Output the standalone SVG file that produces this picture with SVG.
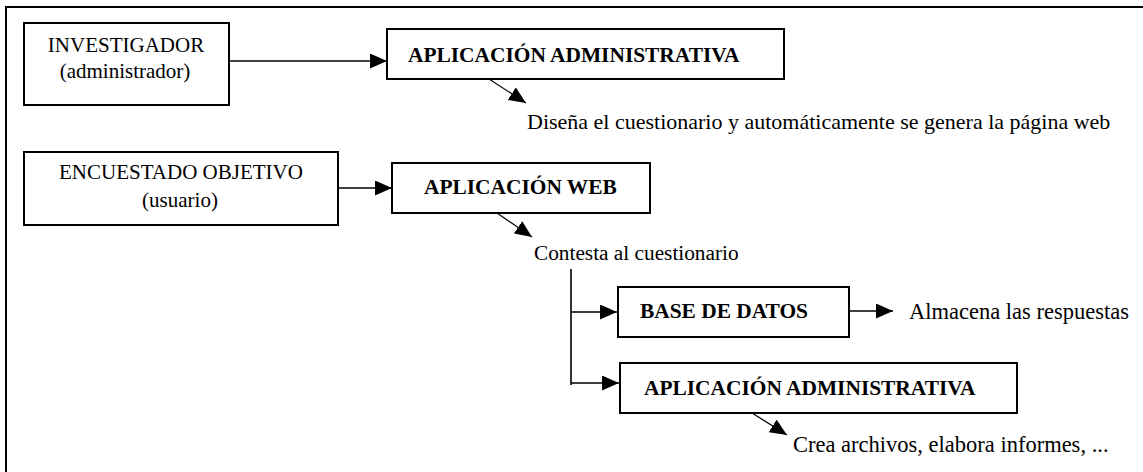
<svg xmlns="http://www.w3.org/2000/svg" width="1143" height="472" viewBox="0 0 1143 472">
<style>
text{font-family:'Liberation Serif','Times New Roman',serif;font-size:21px;fill:#000}
.b{font-weight:bold;font-size:21.4px}
.c{text-anchor:middle}
.n{font-size:22px}
.m{font-size:22.5px}
.box{fill:#fff;stroke:#000;stroke-width:2}
.ln{stroke:#000;stroke-width:1.6;fill:none}
.dg{stroke:#000;stroke-width:1.2;fill:none}
</style>
<defs>
<marker id="ah" markerUnits="userSpaceOnUse" markerWidth="17" markerHeight="15" refX="17" refY="7.5" orient="auto">
<path d="M0,0 L17,7.5 L0,15 z" fill="#000"/>
</marker>
</defs>
<rect x="6" y="7" width="1200" height="500" fill="#fff" stroke="#000" stroke-width="2"/>
<g id="investigador">
<rect class="box" x="24" y="23" width="205" height="82"/>
<text class="c" x="126" y="52">INVESTIGADOR</text>
<text class="c" x="125" y="78">(administrador)</text>
</g>
<g id="app-admin-1">
<rect class="box" x="387" y="29" width="397" height="50"/>
<text class="b" x="408" y="62">APLICACIÓN ADMINISTRATIVA</text>
</g>
<g id="note-disena">
<text class="n" x="527" y="129">Diseña el cuestionario y automáticamente se genera la página web</text>
</g>
<g id="encuestado">
<rect class="box" x="24" y="152" width="314" height="73"/>
<text class="c" x="181" y="179">ENCUESTADO OBJETIVO</text>
<text class="c" x="180" y="207">(usuario)</text>
</g>
<g id="app-web">
<rect class="box" x="392" y="163" width="258" height="50"/>
<text class="b" x="424" y="194">APLICACIÓN WEB</text>
</g>
<g id="note-contesta">
<text x="534" y="260" style="font-size:21.3px">Contesta al cuestionario</text>
</g>
<g id="base-datos">
<rect class="box" x="618" y="287" width="231" height="50"/>
<text class="b" x="640" y="318">BASE DE DATOS</text>
</g>
<g id="note-almacena">
<text class="m" x="909" y="319">Almacena las respuestas</text>
</g>
<g id="app-admin-2">
<rect class="box" x="620" y="363" width="397" height="50"/>
<text class="b" x="644" y="395">APLICACIÓN ADMINISTRATIVA</text>
</g>
<g id="note-crea">
<text class="m" x="793" y="452">Crea archivos, elabora informes, ...</text>
</g>
<g id="connectors">
<path class="ln" d="M229,61 H387" marker-end="url(#ah)"/>
<path class="dg" d="M489,79 L526,103" marker-end="url(#ah)"/>
<path class="ln" d="M338,188 H392" marker-end="url(#ah)"/>
<path class="dg" d="M497,213 L532,237" marker-end="url(#ah)"/>
<path class="ln" d="M571,269 V385"/>
<path class="ln" d="M571,312 H617" marker-end="url(#ah)"/>
<path class="ln" d="M571,383 H619" marker-end="url(#ah)"/>
<path class="ln" d="M849,311 H893" marker-end="url(#ah)"/>
<path class="dg" d="M752,413 L787,435" marker-end="url(#ah)"/>
</g>
</svg>
